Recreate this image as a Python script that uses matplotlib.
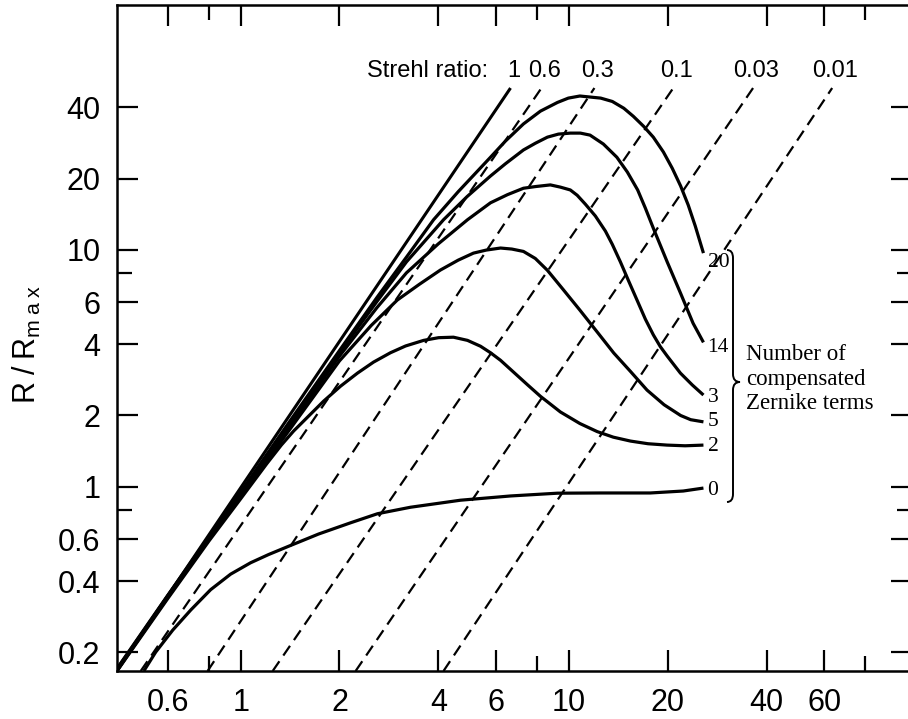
import matplotlib
matplotlib.use('Agg')
import matplotlib.pyplot as plt
from matplotlib.path import Path
from matplotlib.patches import PathPatch
from matplotlib.ticker import FixedLocator, FixedFormatter, NullFormatter

plt.rcParams['font.family'] = ['Liberation Sans', 'DejaVu Sans']
plt.rcParams['mathtext.fontset'] = 'custom'
plt.rcParams['mathtext.rm'] = 'Liberation Sans'
plt.rcParams['mathtext.it'] = 'Liberation Sans'
plt.rcParams['lines.scale_dashes'] = False

# ---------------- data ----------------
strehl_labels = ['1', '0.6', '0.3', '0.1', '0.03', '0.01']
strehl_x_low = [0.42, 0.496, 0.793, 1.252, 2.24, 4.15]
strehl_x_high = [6.64, 8.25, 11.96, 20.8, 36.4, 63.4]
strehl_y_low = 0.167
strehl_y_high = 48.2

curve_labels = ['20', '14', '3', '5', '2', '0']

x20 = [0.42, 0.6, 0.8, 1.0, 1.4, 2.0, 2.6, 3.2, 3.87, 4.6, 5.77, 6.41, 7.27, 8.19, 9.23, 9.96,
       10.8, 12.5, 13.56, 14.7, 15.72, 16.9, 18.08, 19.4, 20.65, 21.9, 23.1, 24.27, 25.7]
y20 = [0.171, 0.349, 0.614, 0.95, 1.86, 3.76, 6.29, 9.32, 13.4, 17.6, 24.6, 28.8, 34.0, 38.5, 41.9, 43.7,
       44.6, 43.7, 42.3, 39.6, 36.6, 33.2, 29.9, 25.9, 22.1, 18.6, 15.45, 12.6, 9.69]

x14 = [0.42, 0.6, 0.8, 1.0, 1.4, 2.0, 2.6, 3.2, 4.15, 4.9, 5.77, 6.41, 7.27, 7.91, 8.6, 9.29, 10.1,
       10.84, 11.6, 12.74, 14.0, 15.07, 16.2, 17.1, 18.1, 19.94, 21.9, 23.9, 24.8, 25.7]
y14 = [0.170, 0.347, 0.608, 0.94, 1.82, 3.68, 6.05, 8.9, 13.4, 16.8, 20.5, 23.1, 26.4, 28.2, 29.9, 30.8, 31.1,
       31.1, 30.5, 27.96, 24.6, 21.3, 17.9, 15.0, 12.3, 8.88, 6.55, 4.90, 4.46, 4.07]

x3 = [0.42, 0.6, 0.8, 1.0, 1.4, 2.0, 2.6, 3.2, 4.0, 4.91, 5.77, 6.5, 7.27, 7.91, 8.78, 9.42, 10.1,
      10.6, 11.22, 12.04, 12.92, 13.56, 14.35, 15.2, 16.16, 17.1, 18.08, 19.0, 19.94, 21.86, 23.77, 25.7]
y3 = [0.169, 0.344, 0.602, 0.92, 1.78, 3.56, 5.7, 8.0, 10.6, 13.4, 15.8, 17.1, 18.2, 18.5, 18.8, 18.4, 17.9,
      17.0, 15.6, 13.9, 12.0, 10.55, 8.9, 7.4, 6.1, 5.1, 4.38, 3.9, 3.56, 3.02, 2.69, 2.44]

x5 = [0.42, 0.6, 0.8, 1.0, 1.4, 2.0, 2.5, 3.0, 3.5, 4.06, 4.6, 5.12, 5.6, 6.19, 6.7, 7.27, 7.9, 8.6, 9.6,
      10.8, 12.2, 13.7, 15.4, 17.3, 19.5, 21.9, 23.5, 25.7]
y5 = [0.168, 0.342, 0.598, 0.91, 1.72, 3.4, 4.8, 6.14, 7.15, 8.22, 9.05, 9.69, 9.98, 10.18, 10.08, 9.85, 9.2,
      8.2, 6.81, 5.57, 4.5, 3.67, 3.07, 2.56, 2.22, 2.0, 1.92, 1.88]

x2 = [0.42, 0.6, 0.8, 1.0, 1.2, 1.33, 1.45, 1.60, 1.79, 2.016, 2.27, 2.54, 2.86, 3.18, 3.61, 4.01, 4.45,
      4.91, 5.38, 5.77, 6.19, 6.78, 7.47, 8.19, 9.42, 10.8, 12.2, 13.66, 15.4, 17.42, 19.9, 22.6, 25.7]
y2 = [0.167, 0.338, 0.59, 0.89, 1.25, 1.50, 1.72, 1.97, 2.3, 2.66, 3.02, 3.36, 3.68, 3.93, 4.15, 4.26, 4.28,
      4.15, 3.92, 3.68, 3.42, 3.05, 2.7, 2.41, 2.07, 1.85, 1.71, 1.62, 1.56, 1.52, 1.50, 1.49, 1.50]

x0 = [0.507, 0.551, 0.621, 0.7045, 0.810, 0.932, 1.072, 1.217, 1.39, 1.727, 2.162, 2.612, 3.292, 4.674,
      6.64, 9.23, 12.47, 17.7, 22.3, 25.7]
y0 = [0.167, 0.2007, 0.2485, 0.302, 0.368, 0.428, 0.478, 0.518, 0.559, 0.632, 0.705, 0.77, 0.82, 0.878,
      0.915, 0.940, 0.942, 0.942, 0.960, 0.988]

xticks_major = [0.6, 1, 2, 4, 6, 10, 20, 40, 60]
xtick_labels = ['0.6', '1', '2', '4', '6', '10', '20', '40', '60']
xticks_minor = [0.8, 8, 80]
yticks_major = [0.2, 0.4, 0.6, 1, 2, 4, 6, 10, 20, 40]
ytick_labels = ['0.2', '0.4', '0.6', '1', '2', '4', '6', '10', '20', '40']
yticks_minor = [0.8, 8]

# ---------------- figure ----------------
W, H = 908, 719
fig = plt.figure(figsize=(W / 100, H / 100), dpi=100)
ax = fig.add_axes([117 / W, 48 / H, 795 / W, 666 / H])
ax.set_xscale('log')
ax.set_yscale('log')
ax.set_xlim(0.42, 111)
ax.set_ylim(0.167, 108)

# Strehl lines
for i, lab in enumerate(strehl_labels):
    ls = '-' if lab == '1' else (0, (8.5, 5))
    lw = 2.2 if lab == '1' else 1.6
    ax.plot([strehl_x_low[i], strehl_x_high[i]], [strehl_y_low, strehl_y_high],
            color='black', lw=lw, linestyle=ls, solid_capstyle='butt')
    ax.text(strehl_x_high[i] * 1.02, 57, lab, ha='center', va='center', fontsize=17)
ax.text(5.69, 57, 'Strehl ratio:', ha='right', va='center', fontsize=17)

# curves
curves = [(x20, y20), (x14, y14), (x3, y3), (x5, y5), (x2, y2), (x0, y0)]
label_dy = [-7, -4, -1.5, 0.5, -1, -1.5]
for (xs, ys), lab, dy in zip(curves, curve_labels, label_dy):
    ax.plot(xs, ys, color='black', lw=2.3, solid_joinstyle='round', solid_capstyle='butt')
    ax.annotate(lab, (xs[-1], ys[-1]), xytext=(3, dy), textcoords='offset points',
                ha='left', va='center', fontsize=15.5, family='Liberation Serif')

# ticks
ax.xaxis.set_major_locator(FixedLocator(xticks_major))
ax.xaxis.set_major_formatter(FixedFormatter(xtick_labels))
ax.xaxis.set_minor_locator(FixedLocator(xticks_minor))
ax.xaxis.set_minor_formatter(NullFormatter())
ax.yaxis.set_major_locator(FixedLocator(yticks_major))
ax.yaxis.set_major_formatter(FixedFormatter(ytick_labels))
ax.yaxis.set_minor_locator(FixedLocator(yticks_minor))
ax.yaxis.set_minor_formatter(NullFormatter())
ax.tick_params(which='both', direction='in', top=True, right=True, width=1.6, labelsize=22)
ax.tick_params(which='major', length=15, pad=12)
ax.tick_params(which='minor', length=11)
for s in ax.spines.values():
    s.set_linewidth(1.8)

ax.set_ylabel(r'R$\;$/$\;$R$_{\mathregular{m\;a\;x}}$', fontsize=22)
ax.yaxis.set_label_coords(-0.093, 0.49)

# brace and side text (figure pixel coordinates)
bp = [(727, 250), (733, 250), (733, 258), (733, 374), (733, 382), (740, 382),
      (733, 382), (733, 390), (733, 494), (733, 502), (727, 502)]
codes = [Path.MOVETO, Path.CURVE3, Path.CURVE3, Path.LINETO, Path.CURVE3, Path.CURVE3,
         Path.CURVE3, Path.CURVE3, Path.LINETO, Path.CURVE3, Path.CURVE3]
verts = [(px / W, 1 - py / H) for px, py in bp]
fig.patches.append(PathPatch(Path(verts, codes), transform=fig.transFigure,
                             fill=False, lw=1.4, color='black'))
fig.text(746 / W, 1 - 379 / H, 'Number of\ncompensated\nZernike terms', ha='left',
         va='center', fontsize=16.5, family='Liberation Serif', linespacing=1.2)

fig.savefig('out.png', dpi=100)
